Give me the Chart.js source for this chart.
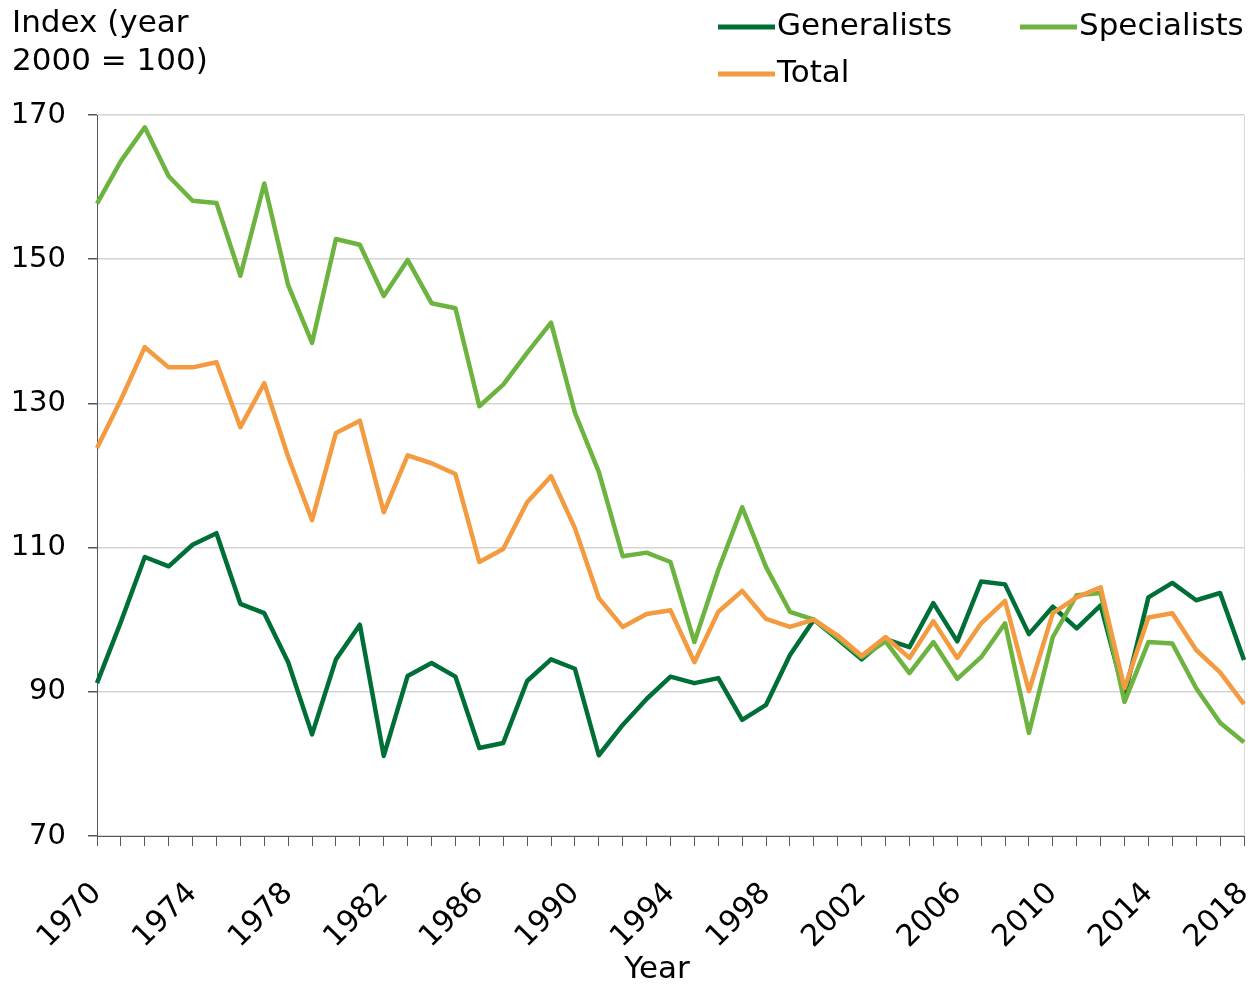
<!DOCTYPE html>
<html>
<head>
<meta charset="utf-8">
<script src="https://cdn.jsdelivr.net/npm/chart.js@4"></script>
<style>
  html, body { margin: 0; padding: 0; background: #fff; }
  #wrap { width: 1259px; height: 985px; position: relative; }
</style>
</head>
<body>
<div id="wrap"><canvas id="chart" width="1259" height="985"></canvas></div>
<script>
// Years on the x axis
const years = [];
for (let y = 1970; y <= 2018; y++) years.push(String(y));

// Index values (year 2000 = 100)
const generalists = [
  91.2, 99.7, 108.7, 107.4, 110.4, 112.0, 102.2, 100.9, 94.1, 84.1,
  94.5, 99.3, 81.1, 92.2, 94.0, 92.1, 82.2, 82.9, 91.5, 94.5,
  93.2, 81.2, 85.4, 89.0, 92.1, 91.2, 91.9, 86.1, 88.2, 95.1,
  100.0, 97.3, 94.5, 97.3, 96.2, 102.3, 97.0, 105.3, 104.9, 98.0,
  101.8, 98.8, 102.0, 89.5, 103.1, 105.1, 102.7, 103.7, 94.4
];
const specialists = [
  157.7, 163.6, 168.3, 161.5, 158.1, 157.8, 147.7, 160.5, 146.4, 138.4,
  152.8, 152.0, 144.9, 149.9, 143.9, 143.2, 129.6, 132.6, 137.0, 141.2,
  128.7, 120.5, 108.8, 109.3, 108.0, 96.9, 106.9, 115.6, 107.3, 101.1,
  100.0, 97.5, 94.8, 97.0, 92.6, 96.9, 91.8, 94.8, 99.5, 84.3,
  97.6, 103.4, 103.7, 88.6, 96.9, 96.7, 90.5, 85.7, 83.0
];
const total = [
  123.8, 130.5, 137.8, 135.0, 135.0, 135.7, 126.7, 132.8, 122.6, 113.8,
  125.9, 127.6, 114.9, 122.8, 121.7, 120.2, 108.0, 109.8, 116.3, 119.9,
  112.7, 103.0, 99.0, 100.8, 101.3, 94.1, 101.1, 104.0, 100.1, 99.0,
  100.0, 97.8, 95.0, 97.6, 94.7, 99.8, 94.7, 99.5, 102.6, 90.1,
  100.9, 103.1, 104.5, 90.5, 100.3, 100.9, 95.8, 92.7, 88.3
];
const yTicks = [70, 90, 110, 130, 150, 170];

const FONT = "'DejaVu Sans', Verdana, sans-serif";
const colGen = "#006f37";
const colSpec = "#6db33f";
const colTot = "#f49a40";

// Axis caption, x-axis title and legend drawn on the canvas
const headerPlugin = {
  id: "header",
  afterDraw(chart) {
    const ctx = chart.ctx;
    ctx.save();
    ctx.font = "31px " + FONT;
    ctx.fillStyle = "#000";
    ctx.textBaseline = "middle";
    ctx.textAlign = "left";
    ctx.fillText("Index (year", 12, 24);
    ctx.fillText("2000 = 100)", 12, 62);

    const items = [
      { text: "Generalists", color: colGen, x: 718, y: 27 },
      { text: "Specialists", color: colSpec, x: 1020, y: 27 },
      { text: "Total", color: colTot, x: 718, y: 74 }
    ];
    items.forEach(it => {
      ctx.strokeStyle = it.color;
      ctx.lineWidth = 5;
      ctx.beginPath();
      ctx.moveTo(it.x, it.y);
      ctx.lineTo(it.x + 57, it.y);
      ctx.stroke();
      ctx.fillText(it.text, it.x + 59, it.y);
    });

    ctx.textAlign = "center";
    ctx.fillText("Year", 657, 970);
    ctx.restore();
  }
};

const line = (label, data, color, order) => ({
  label, data, order,
  borderColor: color,
  backgroundColor: color,
  borderWidth: 4.5,
  pointRadius: 0,
  tension: 0,
  borderJoinStyle: "round",
  borderCapStyle: "butt"
});

new Chart(document.getElementById("chart"), {
  type: "line",
  data: {
    labels: years,
    datasets: [
      line("Generalists", generalists, colGen, 2),
      line("Specialists", specialists, colSpec, 1),
      line("Total", total, colTot, 0)
    ]
  },
  options: {
    responsive: false,
    animation: false,
    layout: { padding: { top: 115, left: 0, right: 15, bottom: 0 } },
    plugins: {
      legend: { display: false },
      tooltip: { enabled: false }
    },
    scales: {
      x: {
        type: "category",
        offset: false,
        grid: {
          display: true,
          drawOnChartArea: true,
          color: ctx => (ctx.index === years.length - 1 ? "#d9d9d9" : "rgba(0,0,0,0)"),
          drawTicks: true,
          tickLength: 10,
          tickColor: "#595959",
          lineWidth: 1
        },
        border: { display: true, color: "#595959", width: 1 },
        ticks: {
          autoSkip: false,
          maxRotation: 45,
          minRotation: 45,
          padding: 30,
          color: "#000",
          font: { family: FONT, size: 30 },
          callback: function (v, i) {
            const y = 1970 + i;
            return (y - 1970) % 4 === 0 ? String(y) : "";
          }
        },
        afterFit(scale) {
          scale.height = 149;
          scale.paddingLeft = 0;
          scale.paddingRight = 0;
        }
      },
      y: {
        min: 70,
        max: 170,
        afterBuildTicks(scale) {
          scale.ticks = yTicks.map(v => ({ value: v }));
        },
        grid: {
          color: "#d4d4d4",
          lineWidth: 1.5,
          drawTicks: true,
          tickLength: 9,
          tickColor: "#595959"
        },
        border: { display: true, color: "#595959", width: 1 },
        ticks: {
          padding: 22,
          color: "#000",
          font: { family: FONT, size: 29 }
        },
        afterFit(scale) {
          scale.width = 97;
          scale.paddingTop = 0;
          scale.paddingBottom = 0;
        }
      }
    }
  },
  plugins: [headerPlugin]
});
</script>
</body>
</html>
